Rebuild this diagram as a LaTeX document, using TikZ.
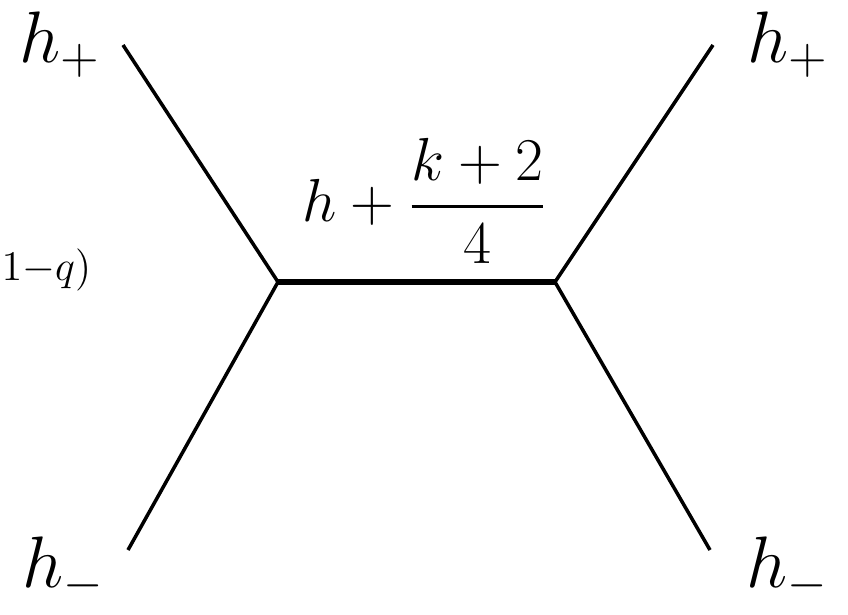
\documentclass[tikz,border=0pt]{standalone}
\usepackage{amsmath}
\usepackage{tikz}
\usetikzlibrary{positioning, calc}
\definecolor{dark}{HTML}{000000}
\tikzset{
    legline/.style={
        line width=1pt, color=dark
    },
    propline/.style={
        line width=1.45pt, color=dark
    },
    leglab/.style={
        font=\fontsize{19.5}{23}\selectfont, text=dark, inner sep=0pt
    },
    proplab/.style={
        font=\fontsize{16.5}{20}\selectfont, text=dark, inner sep=0pt
    },
    cutlab/.style={
        font=\fontsize{13}{16}\selectfont, text=dark, inner sep=0pt
    },
}
\begin{document}
\begin{tikzpicture}[x=0.01cm, y=-0.01cm]

    % ── Frame ──
    \useasboundingbox (0,0) rectangle (848,615);

    % ── Vertices and leg ends ──
    \coordinate (vl) at (278,282);
    \coordinate (vr) at (555,282);
    \coordinate (tl) at (123,45);
    \coordinate (bl) at (128,550);
    \coordinate (tr) at (713,45);
    \coordinate (br) at (710,550);

    % ── Labels ──
    \node[leglab] (hpl) at (60,45) {$h_+$};
    \node[leglab] (hpr) at (788,45) {$h_+$};
    \node[leglab] (hml) at (64,570) {$h_-$};
    \node[leglab] (hmr) at (788,570) {$h_-$};
    \node[proplab] (mid) at (425,201) {$\displaystyle h+\frac{k+2}{4}$};
    \node[cutlab, anchor=west] (cut) at (1,270) {$1{-}q)$};

    % ── Lines ──
    \draw[legline] (tl) -- (vl) -- (bl);
    \draw[legline] (tr) -- (vr) -- (br);
    \draw[propline] (vl) -- (vr);

\end{tikzpicture}
\end{document}
